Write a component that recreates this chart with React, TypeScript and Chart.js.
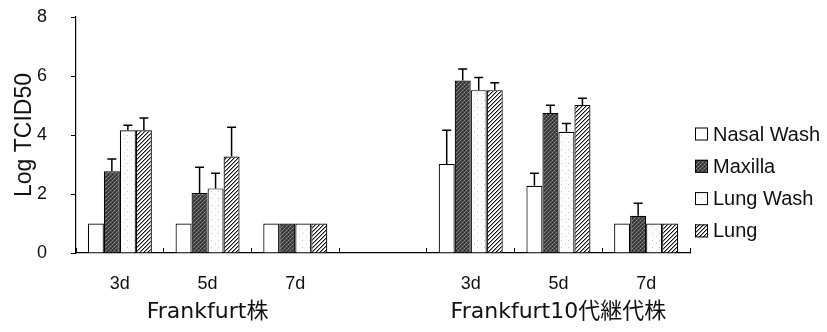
import React, { useEffect, useRef } from "react";
import { Chart, registerables } from "chart.js";

Chart.register(...registerables);

// ---- data ----
const categories = ["3d", "5d", "7d", "", "3d", "5d", "7d"];
const groupLabels = ["Frankfurt株", "Frankfurt10代継代株"];
const groupCenterIndex = [1, 5];
const seriesNames = ["Nasal Wash", "Maxilla", "Lung Wash", "Lung"];

const nasalWash = [1.0, 1.0, 1.0, null, 3.02, 2.28, 1.0];
const maxilla = [2.77, 2.03, 1.0, null, 5.85, 4.75, 1.26];
const lungWash = [4.16, 2.19, 1.0, null, 5.52, 4.11, 1.0];
const lung = [4.16, 3.27, 1.0, null, 5.52, 5.02, 1.0];

const nasalWashErr = [0, 0, 0, null, 1.14, 0.42, 0];
const maxillaErr = [0.42, 0.88, 0, null, 0.39, 0.26, 0.43];
const lungWashErr = [0.17, 0.51, 0, null, 0.43, 0.28, 0];
const lungErr = [0.42, 0.99, 0, null, 0.25, 0.23, 0];

const yTicks = [0, 2, 4, 6, 8];
const yTitle = "Log TCID50";

const FONT = "'Liberation Sans', Arial, 'Noto Sans CJK JP', sans-serif";
const GROUP_FONT = "'DejaVu Sans', 'Noto Sans CJK JP', sans-serif";

function makePattern(size: number, draw: (ctx: CanvasRenderingContext2D) => void) {
  const c = document.createElement("canvas");
  c.width = size;
  c.height = size;
  const ctx = c.getContext("2d")!;
  draw(ctx);
  return ctx.createPattern(c, "repeat")!;
}

export default function App() {
  const ref = useRef<HTMLCanvasElement | null>(null);

  useEffect(() => {
    const canvas = ref.current!;

    const white = "#ffffff";
    const maxillaPat = makePattern(4, (ctx) => {
      ctx.fillStyle = "#444444";
      ctx.fillRect(0, 0, 4, 4);
      ctx.fillStyle = "#8e8e8e";
      ctx.fillRect(0, 0, 1, 1);
      ctx.fillRect(2, 2, 1, 1);
      ctx.fillStyle = "#6c6c6c";
      ctx.fillRect(1, 3, 1, 1);
      ctx.fillRect(3, 1, 1, 1);
      ctx.fillStyle = "#2a2a2a";
      ctx.fillRect(2, 0, 1, 1);
      ctx.fillRect(0, 2, 1, 1);
    });
    const lungWashPat = makePattern(7, (ctx) => {
      ctx.fillStyle = "#ffffff";
      ctx.fillRect(0, 0, 7, 7);
      ctx.fillStyle = "#c4c4c4";
      ctx.fillRect(1, 2, 1, 1);
      ctx.fillStyle = "#d8d8d8";
      ctx.fillRect(5, 5, 1, 1);
    });
    const lungPat = makePattern(4, (ctx) => {
      ctx.fillStyle = "#ffffff";
      ctx.fillRect(0, 0, 4, 4);
      for (let i = 0; i < 4; i++) {
        ctx.fillStyle = "#111111";
        ctx.fillRect(i, 3 - i, 1, 1);
        ctx.fillStyle = "#9a9a9a";
        ctx.fillRect(i, (4 - i) % 4, 1, 1);
      }
    });

    const fills = [white, maxillaPat, lungWashPat, lungPat];
    const values = [nasalWash, maxilla, lungWash, lung];
    const errs = [nasalWashErr, maxillaErr, lungWashErr, lungErr];

    const errorBars = {
      id: "errorBars",
      afterDatasetsDraw(chart: any) {
        const ctx = chart.ctx;
        const yScale = chart.scales.y;
        ctx.save();
        ctx.strokeStyle = "#000";
        ctx.lineWidth = 1.5;
        chart.data.datasets.forEach((ds: any, i: number) => {
          const meta = chart.getDatasetMeta(i);
          meta.data.forEach((el: any, j: number) => {
            const v = ds.data[j];
            const e = ds.errors[j];
            if (v == null || !e) return;
            const yTop = yScale.getPixelForValue(v + e);
            ctx.beginPath();
            ctx.moveTo(el.x, el.y);
            ctx.lineTo(el.x, yTop);
            ctx.moveTo(el.x - 4.5, yTop);
            ctx.lineTo(el.x + 4.5, yTop);
            ctx.stroke();
          });
        });
        ctx.restore();
      },
    };

    const extras = {
      id: "extras",
      afterDraw(chart: any) {
        const ctx = chart.ctx;
        const xScale = chart.scales.x;
        ctx.save();
        // group labels
        ctx.fillStyle = "#111";
        ctx.font = `22px ${GROUP_FONT}`;
        ctx.textAlign = "center";
        ctx.textBaseline = "middle";
        groupLabels.forEach((lab, k) => {
          const x = xScale.getPixelForValue(groupCenterIndex[k]);
          ctx.fillText(lab, x, 312);
        });
        // legend
        const lx = chart.chartArea.right + 5;
        const ly0 = 134;
        const step = 32.3;
        ctx.font = `20px ${FONT}`;
        ctx.textAlign = "left";
        chart.data.datasets.forEach((ds: any, i: number) => {
          const cy = ly0 + i * step;
          ctx.fillStyle = ds.backgroundColor;
          ctx.fillRect(lx, cy - 6.5, 13, 13);
          ctx.strokeStyle = "#000";
          ctx.lineWidth = 1;
          ctx.strokeRect(lx + 0.5, cy - 6, 12, 12);
          ctx.fillStyle = "#111";
          ctx.fillText(ds.label, lx + 18, cy + 1);
        });
        ctx.restore();
      },
    };

    const chart = new Chart(canvas, {
      type: "bar",
      data: {
        labels: categories,
        datasets: seriesNames.map((name, i) => ({
          label: name,
          data: values[i] as any,
          errors: errs[i],
          backgroundColor: fills[i] as any,
          borderColor: "#000",
          borderWidth: 1.2,
          categoryPercentage: 0.73,
          barPercentage: 1.0,
        })) as any,
      },
      options: {
        responsive: false,
        animation: false,
        devicePixelRatio: 1,
        layout: { padding: { left: 0, right: 137, top: 17, bottom: 0 } },
        plugins: {
          legend: { display: false },
          tooltip: { enabled: false },
        },
        scales: {
          x: {
            grid: {
              display: true,
              drawOnChartArea: false,
              drawTicks: true,
              tickLength: -5,
              offset: true,
              color: "#000",
            },
            border: { display: true, color: "#000", width: 1.2 },
            ticks: {
              color: "#111",
              font: { family: FONT, size: 18 },
              padding: 25,
              maxRotation: 0,
              autoSkip: false,
            },
            afterFit: (scale: any) => {
              scale.height = 79;
            },
          },
          y: {
            min: 0,
            max: 8,
            afterBuildTicks: (scale: any) => {
              scale.ticks = yTicks.map((v) => ({ value: v }));
            },
            grid: {
              display: true,
              drawOnChartArea: false,
              drawTicks: true,
              tickLength: 5,
              color: "#000",
            },
            border: { display: true, color: "#000", width: 1.2 },
            ticks: {
              color: "#111",
              font: { family: FONT, size: 18 },
              padding: 24,
            },
            title: {
              display: true,
              text: yTitle,
              color: "#111",
              font: { family: FONT, size: 23 },
              padding: { top: 11, bottom: 0 },
            },
            afterFit: (scale: any) => {
              scale.width = 76;
              scale.paddingTop = 10;
              scale.paddingBottom = 10;
            },
          },
        },
      } as any,
      plugins: [errorBars, extras],
    });

    return () => chart.destroy();
  }, []);

  return (
    <div style={{ position: "fixed", left: 0, top: 0, width: 827, height: 332, background: "#fff" }}>
      <canvas ref={ref} width={827} height={332} style={{ display: "block" }} />
    </div>
  );
}
